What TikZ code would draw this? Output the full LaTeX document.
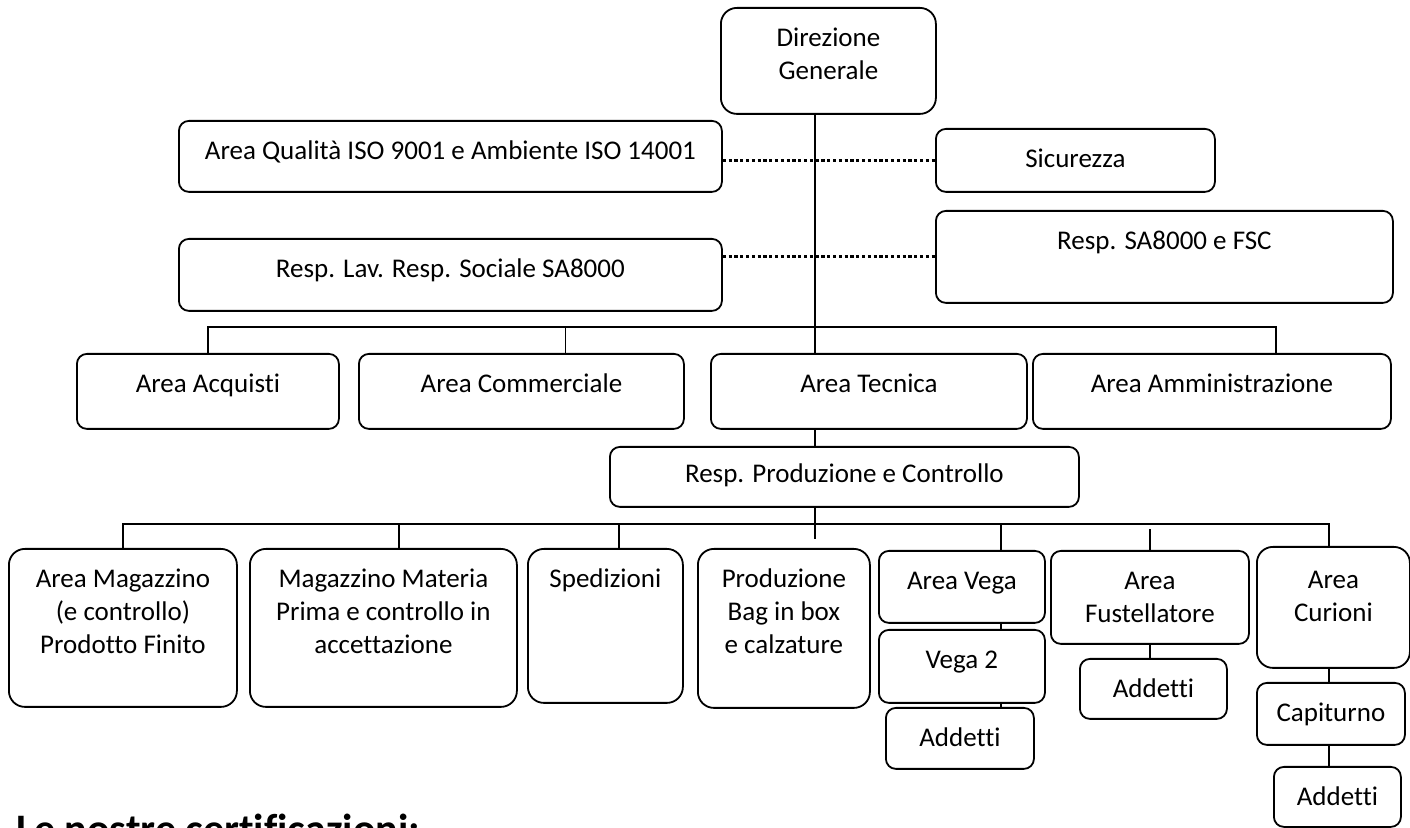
\documentclass[tikz,border=0pt]{standalone}
\usepackage{fontspec}
\setmainfont{Carlito}[Ligatures=NoCommon]
\newcommand{\boxtext}[4][19.5pt]{\parbox[c][#3][t]{#2}{\centering\rule{0pt}{#1}#4}}

\begin{document}
\begin{tikzpicture}[x=0.5pt, y=-0.5pt,
  orgbox/.style={draw, rounded corners=5pt, inner sep=0pt, line width=0.9pt, anchor=north west, font=\fontsize{13.5}{16.5}\selectfont},
  link/.style={line width=0.9pt},
  dots/.style={line width=1.6pt, dash pattern=on 1.6pt off 1.3pt}]
\useasboundingbox (0,0) rectangle (1410,828);
\coordinate (spine) at (815,0);
\coordinate (tbus) at (0,327);
\coordinate (bbus) at (0,524);
\coordinate (fbus) at (0,529);
\coordinate (stub) at (815,539);

\node[orgbox, rounded corners=8pt] (dg) at (720,7) {\boxtext{107.5pt}{53pt}{Direzione\\Generale}};
\node[orgbox] (qual) at (178,120) {\boxtext{271.5pt}{35.5pt}{Area Qualità ISO 9001 e Ambiente ISO 14001}};
\node[orgbox] (sic) at (935,128) {\boxtext{139.5pt}{31.5pt}{Sicurezza}};
\node[orgbox] (lav) at (178,238) {\boxtext{271.5pt}{36pt}{Resp. Lav. Resp. Sociale SA8000}};
\node[orgbox] (fsc) at (935,210) {\boxtext{228.5pt}{46pt}{Resp. SA8000 e FSC}};

\node[orgbox] (acq) at (76,353) {\boxtext{131pt}{37.5pt}{Area Acquisti}};
\node[orgbox] (comm) at (358,353) {\boxtext{162.5pt}{37.5pt}{Area Commerciale}};
\node[orgbox] (tec) at (710,353) {\boxtext{158pt}{37.5pt}{Area Tecnica}};
\node[orgbox] (amm) at (1032,353) {\boxtext{179pt}{37.5pt}{Area Amministrazione}};
\node[orgbox] (prod) at (609,446) {\boxtext[18pt]{234.5pt}{30pt}{Resp. Produzione e Controllo}};

\node[orgbox, rounded corners=8pt] (mag) at (8,548) {\boxtext{114pt}{79pt}{Area Magazzino\\(e controllo)\\Prodotto Finito}};
\node[orgbox, rounded corners=8pt] (mat) at (249,548) {\boxtext{133.5pt}{79pt}{Magazzino Materia\\Prima e controllo in\\accettazione}};
\node[orgbox, rounded corners=8pt] (sped) at (527,548) {\boxtext{77.5pt}{77pt}{Spedizioni}};
\node[orgbox, rounded corners=8pt] (bag) at (697,548) {\boxtext{86pt}{79.5pt}{Produzione\\Bag in box\\e calzature}};
\node[orgbox] (vega) at (878,550) {\boxtext{83pt}{36pt}{Area Vega}};
\node[orgbox] (vega2) at (878,629) {\boxtext{83pt}{36.5pt}{Vega 2}};
\node[orgbox] (addv) at (885,707) {\boxtext{74pt}{30.5pt}{Addetti}};
\node[orgbox] (fust) at (1050,550) {\boxtext{99pt}{46.5pt}{Area\\Fustellatore}};
\node[orgbox] (addf) at (1079,658) {\boxtext{73.5pt}{30pt}{Addetti}};
\node[orgbox, rounded corners=8pt] (cur) at (1256,546) {\boxtext[21pt]{76.5pt}{60.5pt}{Area\\Curioni}};
\node[orgbox] (capi) at (1256,682) {\boxtext{74pt}{31pt}{Capiturno}};
\node[orgbox] (addc) at (1273,766) {\boxtext{63.5pt}{30pt}{Addetti}};

% staff lines
\draw[dots] (qual.east |- sic.west) -- (sic.west);
\draw[dots] (lav.east |- fsc.west) -- (fsc.west);

% first level
\draw[link] (dg.south -| spine) -- (tec.north -| spine);
\draw[link] (acq.north) -- (acq.north |- tbus) -- ([xshift=32pt]amm.north |- tbus) -- ([xshift=32pt]amm.north);
\draw[link] ([xshift=22pt]comm.north) -- ([xshift=22pt]comm.north |- tbus);
\draw[link] (tec.south -| spine) -- (prod.north -| spine);

% second level
\draw[link] (prod.south -| spine) -- (stub);
\draw[link] (mag.north) -- (mag.north |- bbus) -- ([xshift=-2.25pt]cur.north |- bbus) -- ([xshift=-2.25pt]cur.north);
\draw[link] ([xshift=7.75pt]mat.north) -- ([xshift=7.75pt]mat.north |- bbus);
\draw[link] ([xshift=6.75pt]sped.north) -- ([xshift=6.75pt]sped.north |- bbus);
\draw[link] ([xshift=19.5pt]vega.north) -- ([xshift=19.5pt]vega.north |- bbus);
\draw[link] (fust.north) -- (fust.north |- fbus);

% sub units
\draw[link] ([xshift=19.5pt]vega.south) -- ([xshift=19.5pt]vega.south |- vega2.north);
\draw[link] ([xshift=19.5pt]vega2.south) -- ([xshift=19.5pt]vega2.south |- addv.north);
\draw[link] (fust.south) -- (fust.south |- addf.north);
\draw[link] ([xshift=-2.25pt]cur.south) -- ([xshift=-2.25pt]cur.south |- capi.north);
\draw[link] ([xshift=-2.25pt]cur.south |- capi.south) -- ([xshift=-2.25pt]cur.south |- addc.north);

\node[anchor=base west, inner sep=0pt, font=\bfseries\fontsize{21}{25}\selectfont] (cert) at (16,843) {Le nostre certificazioni:};
\end{tikzpicture}
\end{document}
